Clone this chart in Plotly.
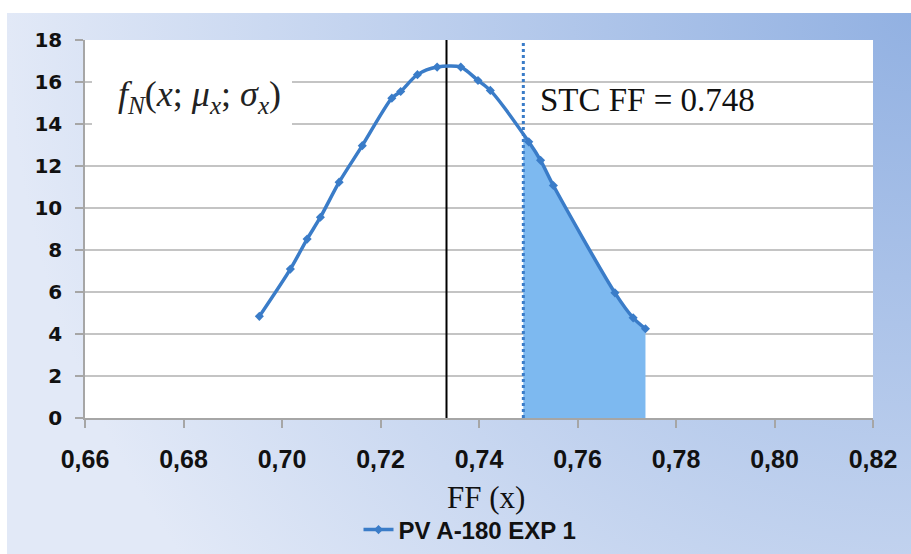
import numpy as np
import plotly.graph_objects as go

# ---- data ----
ff_x = [0.6954, 0.7017, 0.7051, 0.7078, 0.7116, 0.7163, 0.7223, 0.7241, 0.7275,
        0.7315, 0.7363, 0.7398, 0.7423, 0.7501, 0.7525, 0.7551, 0.7676, 0.7713, 0.7738]
pdf_y = [4.84, 7.09, 8.52, 9.56, 11.23, 12.97, 15.23, 15.55, 16.35,
         16.71, 16.71, 16.07, 15.60, 13.15, 12.27, 11.07, 5.96, 4.77, 4.25]
series_name = "PV A-180 EXP 1"
mean_ff = 0.7334
stc_ff_pos = 0.749
stc_label = "STC FF = 0.748"
x_range = [0.66, 0.82]
y_range = [0, 18]

W, H = 911, 554
BLUE = "rgb(58,124,200)"
FILL = "rgb(125,185,240)"

def px(x):
    return x / W

def py(y):
    return 1 - y / H

# plot panel in pixels
PL, PR, PT, PB = 85, 873, 40, 418
# outer chart area in pixels
OL, OT = 7, 13

fig = go.Figure()

# ---- background (gradient chart area + white plot panel) on axes x/y ----
fig.add_trace(go.Scatter(
    x=[0, 2, 2, 0, 0], y=[1 - 1.7, 1 - 1.7, 1 + 1.7, 1 + 1.7, 1 - 1.7],
    mode="lines", line=dict(width=0), fill="toself",
    fillgradient=dict(type="radial",
                      colorscale=[[0, "rgb(146,177,226)"], [1, "rgb(226,233,247)"]]),
    hoverinfo="skip", showlegend=False, xaxis="x", yaxis="y"))

bx0 = (PL - OL) / (W - OL)
bx1 = (PR - OL) / (W - OL)
by0 = (H - PB) / (H - OT)
by1 = (H - PT) / (H - OT)
fig.add_trace(go.Scatter(
    x=[bx0, bx1, bx1, bx0, bx0], y=[by0, by0, by1, by1, by0],
    mode="lines", line=dict(width=0), fill="toself", fillcolor="white",
    hoverinfo="skip", showlegend=False, xaxis="x", yaxis="y"))

# ---- chart on axes x2/y2 ----
xs = np.array(ff_x)
ys = np.array(pdf_y)
mask = xs > stc_ff_pos
fill_x = np.concatenate([[stc_ff_pos], xs[mask]])
fill_y = np.concatenate([[np.interp(stc_ff_pos, xs, ys)], ys[mask]])
fig.add_trace(go.Scatter(
    x=fill_x, y=fill_y, mode="lines", line=dict(width=0, shape="spline"),
    fill="tozeroy", fillcolor=FILL, hoverinfo="skip", showlegend=False,
    xaxis="x2", yaxis="y2"))

fig.add_trace(go.Scatter(
    x=[mean_ff, mean_ff], y=y_range, mode="lines",
    line=dict(color="black", width=2), hoverinfo="skip", showlegend=False,
    xaxis="x2", yaxis="y2"))

fig.add_trace(go.Scatter(
    x=[stc_ff_pos, stc_ff_pos], y=y_range, mode="lines",
    line=dict(color=BLUE, width=3, dash="dot"), hoverinfo="skip", showlegend=False,
    xaxis="x2", yaxis="y2"))

fig.add_trace(go.Scatter(
    x=ff_x, y=pdf_y, name=series_name, mode="lines+markers",
    line=dict(color=BLUE, width=3.5, shape="spline", smoothing=0.8),
    marker=dict(symbol="diamond", size=7, color=BLUE),
    xaxis="x2", yaxis="y2"))

# ---- decorations ----
shapes = [dict(type="rect", xref="paper", yref="paper",
               x0=px(92), x1=px(292), y0=py(128), y1=py(75),
               fillcolor="white", line=dict(width=0), layer="above")]

annotations = [
    dict(text="<i>f</i><sub><i>N</i></sub>(<i>x</i>; <i>μ</i><sub><i>x</i></sub>; "
              "<i>σ</i><sub><i>x</i></sub>)",
         xref="paper", yref="paper", x=px(116), y=py(96), xanchor="left", yanchor="middle",
         showarrow=False, font=dict(family="Liberation Serif", size=36, color="#222")),
    dict(text=stc_label, xref="paper", yref="paper", x=px(538), y=py(100),
         xanchor="left", yanchor="middle", showarrow=False,
         font=dict(family="Liberation Serif", size=33, color="#111")),
    dict(text="FF (x)", xref="paper", yref="paper", x=px(486), y=py(497),
         xanchor="center", yanchor="middle", showarrow=False,
         font=dict(family="Liberation Serif", size=31, color="#111")),
]

fig.update_layout(
    width=W, height=H,
    margin=dict(l=0, r=0, t=0, b=0, pad=0, autoexpand=False),
    paper_bgcolor="white",
    plot_bgcolor="rgba(0,0,0,0)",
    separators=", ",
    xaxis=dict(domain=[OL / W, 1], range=[0, 1], visible=False, fixedrange=True,
               automargin=False),
    yaxis=dict(domain=[0, 1 - OT / H], range=[0, 1], visible=False, fixedrange=True,
               automargin=False),
    xaxis2=dict(domain=[px(PL), px(PR)], anchor="y2", range=x_range,
                tick0=0.66, dtick=0.02, tickformat=".2f",
                ticks="outside", ticklen=8, tickcolor="#a6a6a6", tickwidth=1.5,
                showline=True, linecolor="#a6a6a6", linewidth=1.5,
                showgrid=False, zeroline=False, automargin=False,
                tickfont=dict(family="Liberation Sans", size=25, color="#111", weight="bold"),
                ticklabelstandoff=10),
    yaxis2=dict(domain=[py(PB), py(PT)], anchor="x2", range=y_range, dtick=2,
                ticks="outside", ticklen=8, tickcolor="#a6a6a6", tickwidth=1.5,
                showline=True, linecolor="#a6a6a6", linewidth=1.5,
                showgrid=True, gridcolor="#c4c4c4", gridwidth=2, zeroline=False,
                automargin=False,
                tickfont=dict(family="DejaVu Sans", size=20, color="#111", weight="bold"),
                ticklabelstandoff=9),
    showlegend=True,
    legend=dict(orientation="h", x=px(470), y=py(530), xanchor="center", yanchor="middle",
                bgcolor="rgba(0,0,0,0)",
                font=dict(family="Liberation Sans", size=24, color="#111", weight="bold")),
    shapes=shapes,
    annotations=annotations,
    hovermode=False,
)

fig.write_html("out.html", config={"displayModeBar": False},
               post_script="document.body.style.margin='0';")
